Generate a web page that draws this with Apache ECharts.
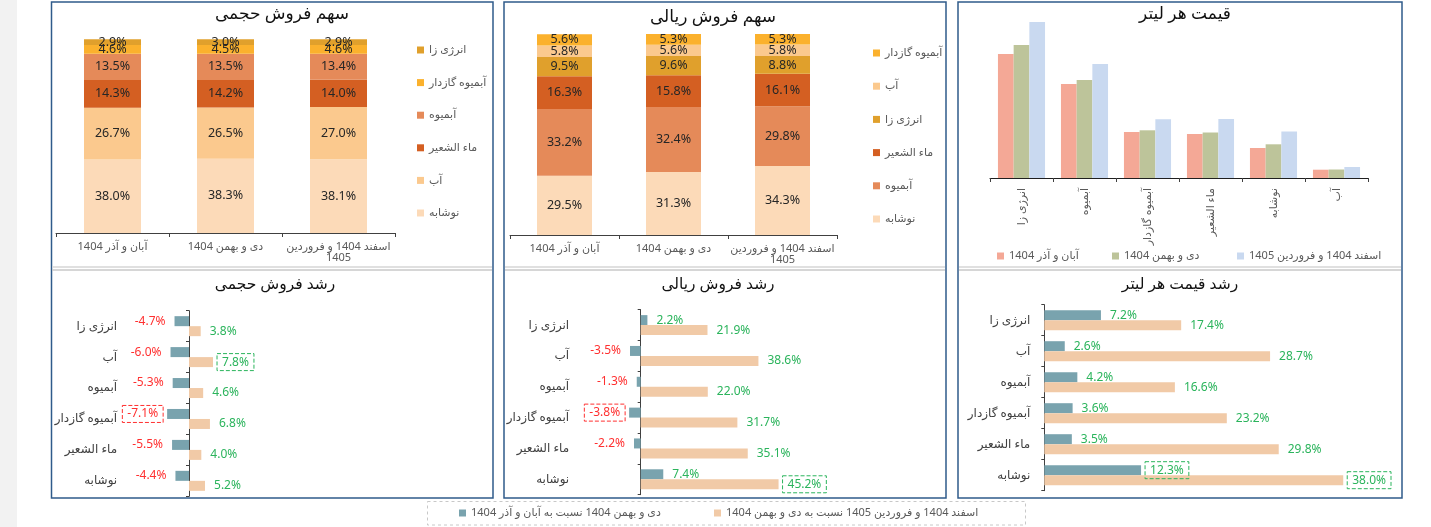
<!DOCTYPE html>
<html>
<head>
<meta charset="utf-8">
<title>داشبورد فروش</title>
<script src="https://cdn.jsdelivr.net/npm/echarts@6/dist/echarts.min.js"></script>
<style>
html, body { margin: 0; padding: 0; background: #fff; }
#main { width: 1431px; height: 527px; }
</style>
</head>
<body>
<div id="main"></div>
<script>
// دوره ها
var periods = ['آبان و آذر 1404', 'دی و بهمن 1404', 'اسفند 1404 و فروردین 1405'];

// سهم فروش حجمی (درصد) - از پایین ستون به بالا
var volNoushabe = [38.0, 38.3, 38.1];
var volAb = [26.7, 26.5, 27.0];
var volMaa = [14.3, 14.2, 14.0];
var volAbmive = [13.5, 13.5, 13.4];
var volGazdar = [4.6, 4.5, 4.6];
var volEnergy = [2.9, 3.0, 2.9];

// سهم فروش ریالی (درصد) - از پایین ستون به بالا
var rialNoushabe = [29.5, 31.3, 34.3];
var rialAbmive = [33.2, 32.4, 29.8];
var rialMaa = [16.3, 15.8, 16.1];
var rialEnergy = [9.5, 9.6, 8.8];
var rialAb = [5.8, 5.6, 5.8];
var rialGazdar = [5.6, 5.3, 5.3];

// قیمت هر لیتر (مقادیر تخمینی از روی ارتفاع ستونها)
var priceCats = ['انرژی زا', 'آبمیوه', 'آبمیوه گازدار', 'ماء الشعیر', 'نوشابه', 'آب'];
var priceAbanAzar = [124, 94, 46, 44, 30, 8.3];
var priceDeyBahman = [133, 98, 47.7, 45.5, 33.7, 8.5];
var priceEsfandFarvardin = [156, 114, 58.8, 59, 46.5, 11];

// رشد ها (درصد)
var growthCats = ['انرژی زا', 'آب', 'آبمیوه', 'آبمیوه گازدار', 'ماء الشعیر', 'نوشابه'];
var growthPrevName = 'دی و بهمن 1404 نسبت به آبان و آذر 1404';
var growthLastName = 'اسفند 1404 و فروردین 1405 نسبت به دی و بهمن 1404';
var volGrowthPrev = [-4.7, -6.0, -5.3, -7.1, -5.5, -4.4];
var volGrowthLast = [3.8, 7.8, 4.6, 6.8, 4.0, 5.2];
var rialGrowthPrev = [2.2, -3.5, -1.3, -3.8, -2.2, 7.4];
var rialGrowthLast = [21.9, 38.6, 22.0, 31.7, 35.1, 45.2];
var priceGrowthPrev = [7.2, 2.6, 4.2, 3.6, 3.5, 12.3];
var priceGrowthLast = [17.4, 28.7, 16.6, 23.2, 29.8, 38.0];

(function() {
	var FONT = "'Noto Sans', 'DejaVu Sans', sans-serif";
	var AXIS = '#404040', LABEL = '#595959';
	var RED = '#ff3030', GREEN = '#2bb45c';
	var TEAL = '#79a3ae', PEACH = '#f1caa7';

	var segColor = {
		'نوشابه': '#fcdab8',
		'آب': '#fbc98e',
		'ماء الشعیر': '#d45f22',
		'آبمیوه': '#e58a59',
		'آبمیوه گازدار': '#fbb12d',
		'انرژی زا': '#e0a02c'
	};

	var pct = function(p) { return p.value.toFixed(1) + '%'; };
	var wrap = function(v) { return v.length > 20 ? v.replace(/ (\S+)$/, '\n$1') : v; };

	// ستون انباشته
	function stackSeries(idx, name, values, barWidth) {
		return {
			name: name, type: 'bar', stack: 's' + idx,
			xAxisIndex: idx, yAxisIndex: idx,
			barWidth: barWidth, data: values,
			itemStyle: { color: segColor[name] },
			label: { show: true, position: 'inside', formatter: pct, fontSize: 12.5, color: '#262626', fontFamily: FONT },
			emphasis: { disabled: true }
		};
	}

	// برچسب ها با کادر خط چین روی مقدار حدی
	function growthData(values) {
		var min = Math.min.apply(null, values), max = Math.max.apply(null, values);
		var mark = min < 0 ? values.indexOf(min) : values.indexOf(max);
		return values.map(function(v, i) {
			var c = v < 0 ? RED : GREEN;
			var lab = { position: v < 0 ? 'left' : 'right', color: c, distance: 9 };
			if (i === mark) {
				lab.borderColor = c; lab.borderWidth = 1; lab.borderType = 'dashed';
				lab.padding = [3, 5, 2, 5]; lab.distance = 4;
			}
			return { value: v, label: lab };
		});
	}

	function growthSeries(gi, name, values, color) {
		return {
			name: name, type: 'bar',
			xAxisIndex: 3 + gi, yAxisIndex: 3 + gi * 2,
			barWidth: 10, barGap: '0%',
			itemStyle: { color: color },
			label: { show: true, formatter: pct, fontSize: 12, fontFamily: FONT },
			data: growthData(values),
			emphasis: { disabled: true }
		};
	}

	function title(text, x, y, size) {
		return { text: text, left: x, top: y, textAlign: 'center', padding: 0,
			textStyle: { fontSize: size, fontWeight: 'normal', color: '#111', fontFamily: FONT } };
	}

	function legend(names, x, y, orient, gap) {
		return {
			orient: orient || 'horizontal', left: x, top: y, data: names, icon: 'rect',
			itemWidth: 7, itemHeight: 7, itemTextGap: 4, itemGap: gap || 10, padding: 0,
			textStyle: { fontSize: 11, color: LABEL, lineHeight: 14, fontFamily: FONT }
		};
	}

	var catAxis = function(gi, data, extra) {
		return echarts.util.merge({
			type: 'category', gridIndex: gi, data: data,
			axisLine: { lineStyle: { color: AXIS } },
			axisTick: { show: true, length: 4, lineStyle: { color: AXIS } },
			axisLabel: { interval: 0, fontSize: 11, color: LABEL, margin: 8, fontFamily: FONT, formatter: wrap }
		}, extra || {}, true);
	};
	var valAxis = function(gi, min, max) {
		return { type: 'value', gridIndex: gi, min: min, max: max, show: false, splitLine: { show: false } };
	};
	// محور برچسب ها در سمت چپ و محور خط در صفر
	var labelAxis = function(gi, margin) {
		return { type: 'category', gridIndex: gi, data: growthCats, inverse: true, position: 'left',
			axisLine: { show: false, onZero: false }, axisTick: { show: false },
			axisLabel: { interval: 0, margin: margin, fontSize: 12, color: '#404040', fontFamily: FONT } };
	};
	var zeroAxis = function(gi) {
		return { type: 'category', gridIndex: gi, data: growthCats, inverse: true, position: 'left',
			axisLine: { show: true, onZero: true, lineStyle: { color: AXIS } },
			axisTick: { show: true, length: 3, lineStyle: { color: AXIS } },
			axisLabel: { show: false } };
	};

	var grid = function(l, t, w, h) {
		return { left: l, top: t, width: w, height: h, containLabel: false, outerBoundsMode: 'none' };
	};

	var frameStyle = { fill: 'none', stroke: '#2f5b8b', lineWidth: 1.5 };
	var graphics = [
		{ type: 'rect', shape: { x: 0, y: 0, width: 17, height: 527 }, style: { fill: '#f2f2f2' }, z: -10 },
		{ type: 'rect', shape: { x: 51.5, y: 2, width: 441.5, height: 496 }, style: frameStyle },
		{ type: 'rect', shape: { x: 504, y: 2, width: 442, height: 496 }, style: frameStyle },
		{ type: 'rect', shape: { x: 958, y: 2, width: 444, height: 496 }, style: frameStyle },
		{ type: 'rect', shape: { x: 427.5, y: 501.5, width: 598, height: 23.5 },
			style: { fill: 'none', stroke: '#c8c8c8', lineWidth: 1, lineDash: [3, 3] } }
	];
	[[52, 492], [505, 945], [959, 1401]].forEach(function(c) {
		graphics.push({ type: 'line', shape: { x1: c[0], y1: 267, x2: c[1], y2: 267 }, style: { stroke: '#d6d6d6', lineWidth: 1.5 } });
		graphics.push({ type: 'line', shape: { x1: c[0], y1: 270, x2: c[1], y2: 270 }, style: { stroke: '#c9c9c9', lineWidth: 1.5 } });
	});

	var option = {
		animation: false,
		backgroundColor: '#fff',
		textStyle: { fontFamily: FONT },
		title: [
			title('سهم فروش حجمی', 282, 6, 17),
			title('سهم فروش ریالی', 713, 9, 17),
			title('قیمت هر لیتر', 1185, 6, 17),
			title('رشد فروش حجمی', 275, 277, 15.5),
			title('رشد فروش ریالی', 718, 277, 15.5),
			title('رشد قیمت هر لیتر', 1180, 277, 15.5)
		],
		legend: [
			legend(['انرژی زا', 'آبمیوه گازدار', 'آبمیوه', 'ماء الشعیر', 'آب', 'نوشابه'], 417, 43, 'vertical', 18.6),
			legend(['آبمیوه گازدار', 'آب', 'انرژی زا', 'ماء الشعیر', 'آبمیوه', 'نوشابه'], 873, 46, 'vertical', 19.2),
			legend(['آبان و آذر 1404'], 997, 249),
			legend(['دی و بهمن 1404'], 1112, 249),
			legend(['اسفند 1404 و فروردین 1405'], 1237, 249),
			legend([growthPrevName], 459, 506),
			legend([growthLastName], 714, 506)
		],
		grid: [
			grid(56, 39.3, 339, 193.7),
			grid(510, 34, 327, 201),
			grid(990, 8, 378, 170),
			grid(158.2, 310.7, 308, 185.6),
			grid(610.2, 309.7, 305, 185),
			grid(1044.3, 304.7, 354, 186)
		],
		xAxis: [
			catAxis(0, periods),
			catAxis(1, periods),
			catAxis(2, priceCats, { axisLine: { lineStyle: { color: '#1f1f1f' } },
				axisLabel: { rotate: 90, margin: 10 } }),
			valAxis(3, -10, 90),
			valAxis(4, -10, 90),
			valAxis(5, 0, 45)
		],
		yAxis: [
			valAxis(0, 0, 100),
			valAxis(1, 0, 100),
			valAxis(2, 0, 170),
			labelAxis(3, 41), zeroAxis(3),
			labelAxis(4, 41), zeroAxis(4),
			labelAxis(5, 14), zeroAxis(5)
		],
		series: [
			stackSeries(0, 'نوشابه', volNoushabe, 57),
			stackSeries(0, 'آب', volAb, 57),
			stackSeries(0, 'ماء الشعیر', volMaa, 57),
			stackSeries(0, 'آبمیوه', volAbmive, 57),
			stackSeries(0, 'آبمیوه گازدار', volGazdar, 57),
			stackSeries(0, 'انرژی زا', volEnergy, 57),

			stackSeries(1, 'نوشابه', rialNoushabe, 55),
			stackSeries(1, 'آبمیوه', rialAbmive, 55),
			stackSeries(1, 'ماء الشعیر', rialMaa, 55),
			stackSeries(1, 'انرژی زا', rialEnergy, 55),
			stackSeries(1, 'آب', rialAb, 55),
			stackSeries(1, 'آبمیوه گازدار', rialGazdar, 55),

			{ name: 'آبان و آذر 1404', type: 'bar', xAxisIndex: 2, yAxisIndex: 2, barWidth: 15.7, barGap: '0%',
				itemStyle: { color: '#f4a896' }, data: priceAbanAzar, emphasis: { disabled: true } },
			{ name: 'دی و بهمن 1404', type: 'bar', xAxisIndex: 2, yAxisIndex: 2, barWidth: 15.7, barGap: '0%',
				itemStyle: { color: '#bdc49a' }, data: priceDeyBahman, emphasis: { disabled: true } },
			{ name: 'اسفند 1404 و فروردین 1405', type: 'bar', xAxisIndex: 2, yAxisIndex: 2, barWidth: 15.7, barGap: '0%',
				itemStyle: { color: '#c9d9f0' }, data: priceEsfandFarvardin, emphasis: { disabled: true } },

			growthSeries(0, growthPrevName, volGrowthPrev, TEAL),
			growthSeries(0, growthLastName, volGrowthLast, PEACH),
			growthSeries(1, growthPrevName, rialGrowthPrev, TEAL),
			growthSeries(1, growthLastName, rialGrowthLast, PEACH),
			growthSeries(2, growthPrevName, priceGrowthPrev, TEAL),
			growthSeries(2, growthLastName, priceGrowthLast, PEACH)
		],
		graphic: graphics
	};

	var chart = echarts.init(document.getElementById('main'), null, { renderer: 'canvas' });
	chart.setOption(option);
})();
</script>
</body>
</html>
